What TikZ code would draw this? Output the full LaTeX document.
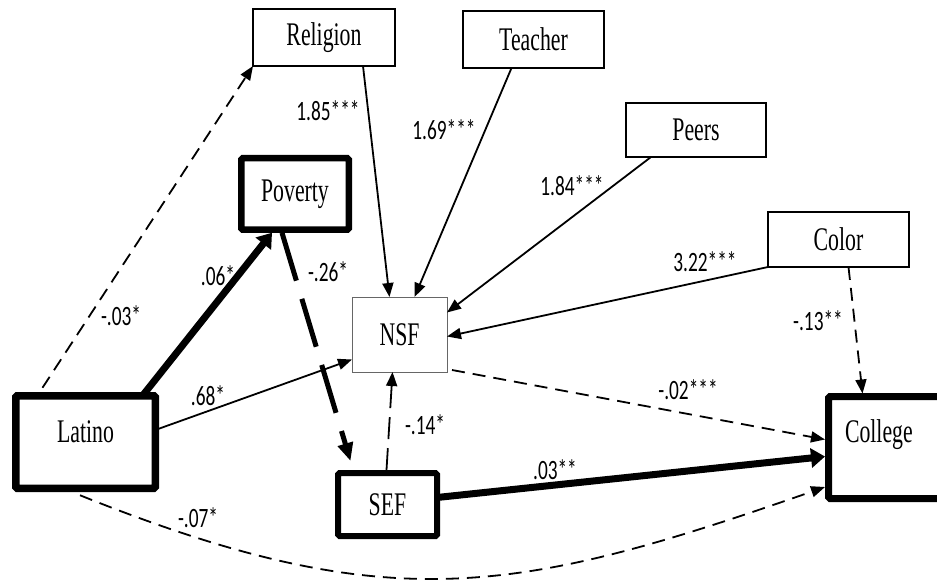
\documentclass[tikz,border=0pt]{standalone}
\usepackage{fontspec}
\usepackage{tikz}
\usetikzlibrary{arrows.meta,calc}
\newfontfamily\varfont[FakeStretch=0.66]{Liberation Serif}
\newfontfamily\coeffont[FakeStretch=0.69]{Carlito}
\tikzset{
  vbox/.style    ={draw=black,fill=white,line width=2pt,inner sep=0pt,outer sep=0pt,
                   font=\varfont\fontsize{33}{36}\selectfont},
  vthin/.style   ={vbox,draw=black!60,line width=1pt},
  vbold/.style   ={vbox,line width=#1,rounded corners=1.5pt},
  coef/.style    ={font=\coeffont\fontsize{28}{30}\selectfont,inner sep=0pt},
  eff/.style     ={-{Triangle[length=14pt,width=11pt]},line width=1.8pt},
  effd/.style    ={eff,dash pattern=on 13pt off 8pt},
  effbold/.style ={-{Triangle[length=14pt,width=19pt]},line width=7pt},
  effboldd/.style={-{Triangle[length=18pt,width=15pt]},line width=5pt,
                   dash pattern=on 50pt off 19pt},
}

\begin{document}
\begin{tikzpicture}[x=1pt,y=-1pt]
\useasboundingbox (0,0) rectangle (937,580);

% exogenous boxes along the top
\node[vbox,minimum width=142pt,minimum height=57pt] (religion) at (324,37.5)  {Religion};
\node[vbox,minimum width=141pt,minimum height=57pt] (teacher)  at (533.5,39.5) {Teacher};
\node[vbox,minimum width=140pt,minimum height=54pt] (peers)    at (696,130)   {Peers};
\node[vbox,minimum width=141pt,minimum height=55pt] (color)    at (838.5,239.5) {Color};

% mediators and outcome
\node[vbold=6.5pt,minimum width=107.5pt,minimum height=71.5pt] (poverty) at (295,194) {Poverty};
\node[vthin,minimum width=95pt,minimum height=75pt] (nsf) at (399.5,334.5) {NSF};
\node[vbold=7.5pt,minimum width=139.5pt,minimum height=92.5pt,
      text height=22pt,text depth=22pt] (latino) at (85.5,442) {Latino};
\node[vbold=6pt,minimum width=99pt,minimum height=63pt] (sef) at (387.5,504.5) {SEF};
\node[vbold=7pt,anchor=west,minimum height=102pt,text width=87pt,align=left,
      inner xsep=16.5pt,text height=22pt,text depth=33pt] (college) at (828.5,447.5) {College};

% paths out of Latino
\draw[effd] ([xshift=-43pt,yshift=8pt]latino.north) -- (religion.south west);
\draw[effbold] ([xshift=57pt]latino.north) -- ([xshift=-23pt,yshift=-3pt]poverty.south);
\draw[eff] ([yshift=12pt]latino.east) -- ([yshift=-25pt]nsf.west);
\draw[effd] ([xshift=-5.5pt,yshift=-7pt]latino.south)
  .. controls +(309,124) and +(-309,108) .. ([xshift=-3.5pt,yshift=-39.5pt]college.west);

% poverty and SEF
\draw[effboldd] ([xshift=-13pt,yshift=-3pt]poverty.south) -- ([xshift=-37pt,yshift=12pt]sef.north);
\draw[eff,dash pattern=on 22pt off 9pt] ([xshift=-1pt,yshift=3pt]sef.north) -- ([xshift=-7pt]nsf.south);
\draw[effbold] ([yshift=7pt]sef.east) -- ([xshift=-3.5pt,yshift=-9pt]college.west);

% socialisation sources into NSF
\draw[eff] ([xshift=39pt]religion.south) -- ([xshift=-10pt]nsf.north);
\draw[eff] ([xshift=-22pt]teacher.south) -- ([xshift=15pt]nsf.north);
\draw[eff] ([xshift=-45pt]peers.south) -- ([yshift=22pt]nsf.east);
\draw[eff] (color.south west) -- ([yshift=-2pt]nsf.east);

% into College
\draw[effd] ([xshift=10pt]color.south) -- ([xshift=-26pt,yshift=3pt]college.north);
\draw[effd] ([xshift=5pt,yshift=2pt]nsf.south east) -- ([xshift=-3.5pt,yshift=8pt]college.west);

% coefficients
\node[coef] (c-lr) at (121,316) {-.03*};
\node[coef] (c-lp) at (218,276) {.06*};
\node[coef] (c-ps) at (328,272) {-.26*};
\node[coef] (c-rn) at (328,111) {1.85***};
\node[coef] (c-tn) at (444,130) {1.69***};
\node[coef] (c-pn) at (572,186) {1.84***};
\node[coef] (c-cn) at (705,262) {3.22***};
\node[coef] (c-cc) at (818,321) {-.13**};
\node[coef] (c-nc) at (688,390) {-.02***};
\node[coef] (c-ln) at (208,396) {.68*};
\node[coef] (c-sn) at (425,425) {-.14*};
\node[coef] (c-sc) at (555,470) {.03**};
\node[coef] (c-lc) at (198,518) {-.07*};
\end{tikzpicture}
\end{document}
